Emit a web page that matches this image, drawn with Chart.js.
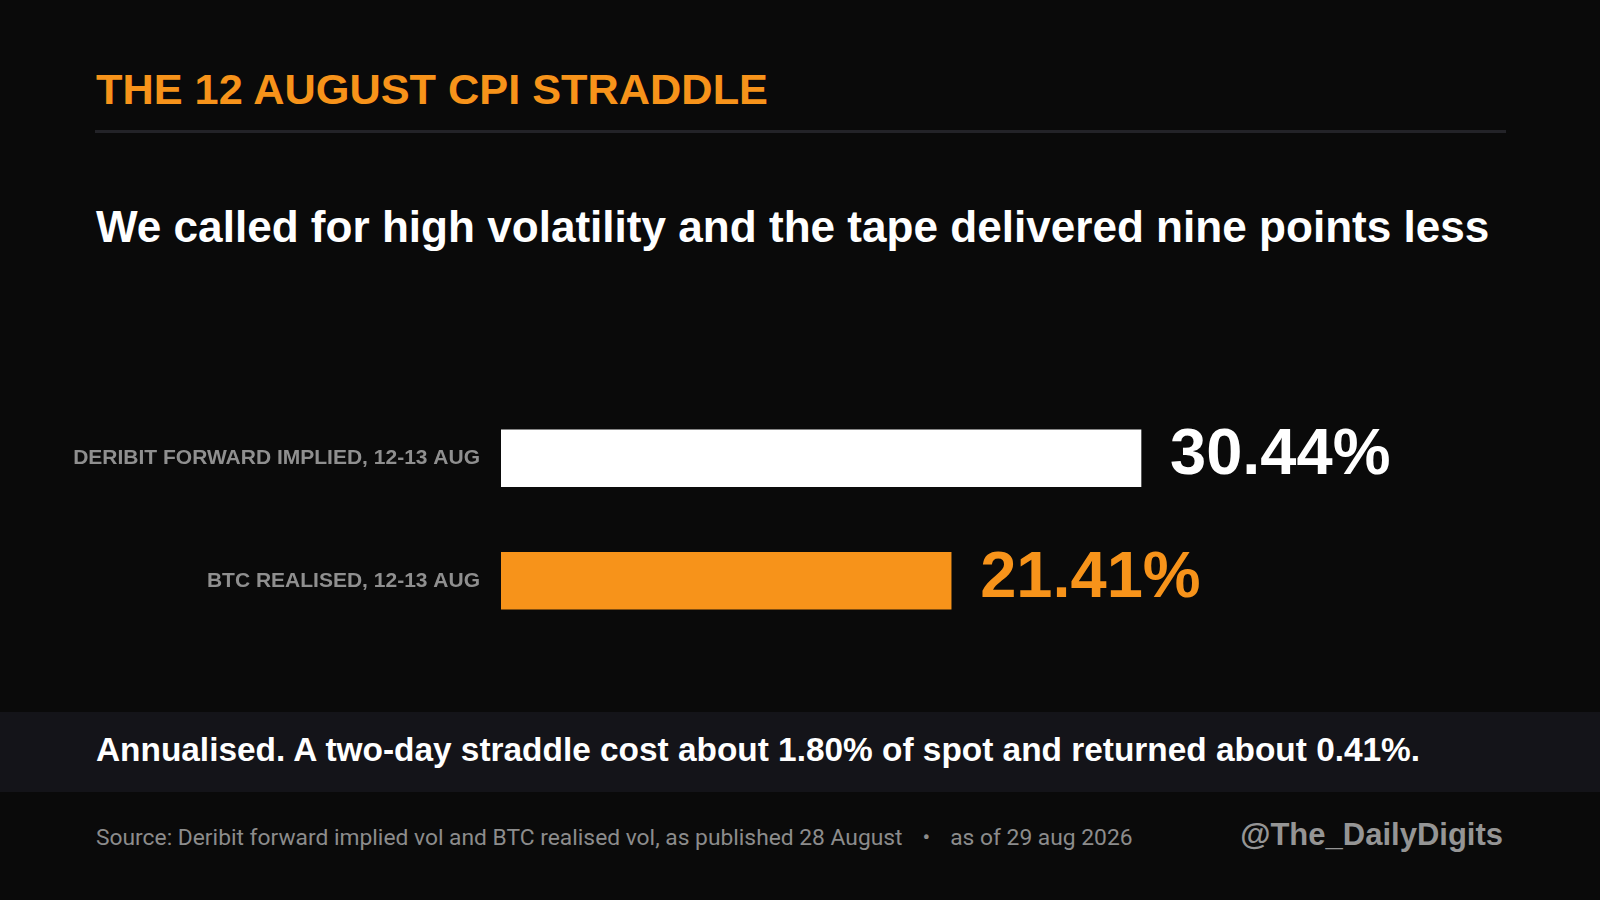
<!DOCTYPE html>
<html>
<head>
  <meta charset="utf-8">
  <title>The 12 August CPI Straddle</title>
  <script src="https://cdn.jsdelivr.net/npm/chart.js@4.4.1/dist/chart.umd.min.js"></script>
  <style>
    html, body {
      margin: 0;
      padding: 0;
      width: 1600px;
      height: 900px;
      background: #0a0a0a;
      overflow: hidden;
      font-family: "Liberation Sans", Arial, sans-serif;
    }
    .txt {
      position: absolute;
      white-space: nowrap;
    }
    #title {
      left: 96px; top: 68px;
      font-size: 43.3px; line-height: 43px; font-weight: bold;
      color: #f7931a;
    }
    #rule {
      position: absolute;
      left: 95px; top: 130px; width: 1411px; height: 3px;
      background: #232328;
    }
    #subtitle {
      left: 96px; top: 205px;
      font-size: 44.1px; line-height: 44px; font-weight: bold;
      color: #ffffff;
    }
    #band {
      position: absolute;
      left: 0; top: 712px; width: 1600px; height: 80px;
      background: #141419;
    }
    #note {
      left: 96px; top: 733px;
      font-size: 33.4px; line-height: 33px; font-weight: bold;
      color: #ffffff;
    }
    #source {
      left: 96px; top: 826px;
      font-family: Roboto, "Liberation Sans", sans-serif;
      font-size: 22.8px; line-height: 23px;
      color: #8c8c8c;
    }
    #source .dot { margin: 0 20px; }
    #handle {
      right: 97px; top: 819px;
      font-size: 31px; line-height: 31px; font-weight: bold;
      color: #959595;
    }
    #chartBox {
      position: absolute;
      left: 0; top: 380px; width: 1600px; height: 280px;
    }
  </style>
</head>
<body>
  <div id="title" class="txt">THE 12 AUGUST CPI STRADDLE</div>
  <div id="rule"></div>
  <div id="subtitle" class="txt">We called for high volatility and the tape delivered nine points less</div>

  <div id="chartBox"><canvas id="volChart" width="1600" height="280"></canvas></div>

  <div id="band"></div>
  <div id="note" class="txt">Annualised. A two-day straddle cost about 1.80% of spot and returned about 0.41%.</div>
  <div id="source" class="txt">Source: Deribit forward implied vol and BTC realised vol, as published 28 August<span class="dot">•</span>as of 29 aug 2026</div>
  <div id="handle" class="txt">@The_DailyDigits</div>

  <script>
    // annualised vol, 12-13 Aug
    const categories = ['DERIBIT FORWARD IMPLIED, 12-13 AUG', 'BTC REALISED, 12-13 AUG'];
    const volValues = [30.44, 21.41];

    const barColors = ['#ffffff', '#f7931a'];

    // big value labels to the right of each bar
    const valueLabels = {
      id: 'valueLabels',
      afterDatasetsDraw(chart) {
        const ctx = chart.ctx;
        const meta = chart.getDatasetMeta(0);
        ctx.save();
        ctx.font = 'bold 65px "Liberation Sans", Arial, sans-serif';
        ctx.textAlign = 'left';
        ctx.textBaseline = 'alphabetic';
        meta.data.forEach((bar, i) => {
          ctx.fillStyle = barColors[i];
          ctx.fillText(volValues[i].toFixed(2) + '%', bar.x + 29, bar.y + 16);
        });
        ctx.restore();
      }
    };

    window.addEventListener('DOMContentLoaded', () => {
      const ctx = document.getElementById('volChart').getContext('2d');
      new Chart(ctx, {
        type: 'bar',
        data: {
          labels: categories,
          datasets: [{
            data: volValues,
            backgroundColor: barColors,
            borderWidth: 0,
            barThickness: 57
          }]
        },
        options: {
          indexAxis: 'y',
          responsive: false,
          maintainAspectRatio: false,
          animation: false,
          layout: { padding: { top: 17, bottom: 18, left: 0, right: 258 } },
          plugins: {
            legend: { display: false },
            tooltip: { enabled: false }
          },
          scales: {
            x: {
              display: false,
              min: 0,
              max: 40
            },
            y: {
              grid: { display: false, drawTicks: false },
              border: { display: false },
              ticks: {
                color: '#8f8f8f',
                padding: 21,
                font: { family: '"Liberation Sans", Arial, sans-serif', size: 21, weight: 'bold' }
              },
              afterFit(scale) {
                // fixed gutter for the labels, no extra room above/below
                scale.width = 501;
                scale.paddingTop = 0;
                scale.paddingBottom = 0;
              }
            }
          }
        },
        plugins: [valueLabels]
      });
    });
  </script>
</body>
</html>
